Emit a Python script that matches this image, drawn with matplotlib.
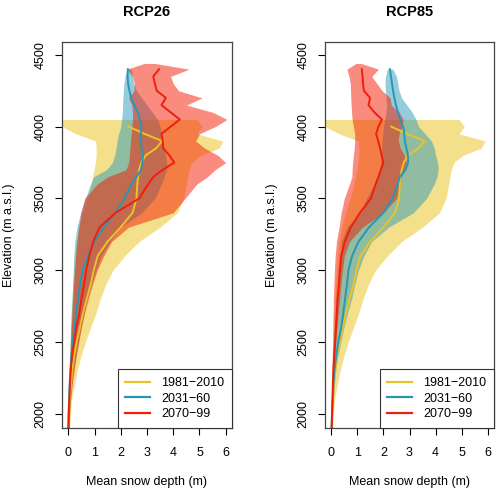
import numpy as np
import matplotlib
matplotlib.use("Agg")
import matplotlib.pyplot as plt

plt.rcParams['font.family'] = ['Liberation Sans', 'DejaVu Sans']
plt.rcParams['font.size'] = 9

n = np.nan

# elevation grid (m a.s.l.)
elev = [1900, 2000, 2100, 2200, 2300, 2400, 2500, 2600, 2700, 2800,
        2900, 3000, 3100, 3200, 3300, 3400, 3500, 3600,
        3650, 3700, 3750, 3800, 3850, 3900, 3950, 4000, 4050,
        4100, 4150, 4200, 4250, 4300, 4350, 4400, 4440]

# 1981-2010 reference (same in both panels)
hist_lo = [0.0, 0.0, 0.01, 0.02, 0.03, 0.05, 0.07, 0.09, 0.11, 0.14,
           0.17, 0.2, 0.24, 0.3, 0.4, 0.55, 0.72, 0.87,
           0.92, 0.98, 1.03, 1.06, 1.06, 1.04, 0.3, -0.24, -0.24,
           n, n, n, n, n, n, n, n]
hist_med = [0.01, 0.03, 0.06, 0.1, 0.15, 0.22, 0.32, 0.44, 0.56, 0.7,
            0.85, 0.97, 1.12, 1.5, 2.0, 2.45, 2.6, 2.63,
            2.66, 2.7, 2.78, 2.95, 3.35, 3.58, 2.9, 2.3, n,
            n, n, n, n, n, n, n, n]
hist_hi = [0.05, 0.08, 0.13, 0.23, 0.34, 0.48, 0.65, 0.85, 1.05, 1.22,
           1.42, 1.7, 2.15, 2.7, 3.5, 4.15, 4.4, 4.5,
           4.55, 4.6, 4.7, 5.05, 5.75, 5.9, 4.9, 5.1, 4.9,
           n, n, n, n, n, n, n, n]

# RCP26
r26_mid_lo = [0.0, 0.01, 0.02, 0.03, 0.04, 0.05, 0.07, 0.09, 0.11, 0.14,
              0.17, 0.19, 0.21, 0.25, 0.33, 0.47, 0.65, 0.85,
              0.96, 1.45, 1.68, 1.77, 1.82, 1.86, 1.92, 2.0, 2.03,
              2.06, 2.07, 2.08, 2.1, 2.12, 2.16, 2.24, n]
r26_mid_med = [0.0, 0.01, 0.03, 0.05, 0.08, 0.12, 0.17, 0.23, 0.3, 0.37,
               0.45, 0.55, 0.75, 1.0, 1.35, 1.8, 2.15, 2.4,
               2.6, 2.78, 2.82, 2.85, 2.8, 2.75, 2.77, 2.8, 2.72,
               2.65, 2.52, 2.4, 2.33, 2.28, 2.26, 2.27, n]
r26_mid_hi = [0.02, 0.04, 0.08, 0.13, 0.2, 0.28, 0.38, 0.48, 0.6, 0.72,
              0.88, 1.05, 1.25, 1.6, 2.0, 2.8, 3.3, 3.55,
              3.65, 3.75, 3.75, 3.7, 3.65, 3.6, 3.55, 3.5, 3.4,
              3.2, 3.0, 2.8, 2.6, 2.5, 2.45, 2.4, n]
r26_end_lo = [0.0, 0.01, 0.02, 0.03, 0.05, 0.07, 0.09, 0.11, 0.14, 0.17,
              0.2, 0.24, 0.28, 0.33, 0.4, 0.48, 0.62, 1.1,
              1.5, 2.2, 2.3, 2.33, 2.35, 2.37, 2.4, 2.42, 2.45,
              2.45, 2.42, 2.3, 2.5, 2.52, 2.45, 2.23, 2.9]
r26_end_med = [0.01, 0.02, 0.04, 0.06, 0.09, 0.14, 0.22, 0.3, 0.42, 0.5,
               0.6, 0.68, 0.8, 0.95, 1.2, 1.8, 2.7, 3.05,
               3.24, 3.6, 4.04, 3.85, 3.62, 3.6, 3.55, 3.9, 4.25,
               3.9, 3.55, 3.72, 3.37, 3.3, 3.24, 3.46, n]
r26_end_hi = [0.02, 0.05, 0.09, 0.15, 0.22, 0.3, 0.4, 0.5, 0.62, 0.76,
              0.92, 1.1, 1.35, 1.65, 2.3, 4.0, 4.45, 4.9,
              5.3, 5.6, 6.0, 5.7, 5.2, 4.85, 5.0, 5.6, 6.05,
              5.5, 4.5, 5.1, 4.2, 4.0, 3.9, 4.6, 3.3]

# RCP85
r85_mid_lo = [0.0, 0.01, 0.02, 0.03, 0.05, 0.07, 0.1, 0.13, 0.17, 0.22,
              0.26, 0.3, 0.34, 0.4, 0.6, 1.1, 1.35, 1.65,
              1.78, 1.85, 1.9, 1.92, 1.93, 1.95, 1.98, 2.0, 2.05,
              2.1, 2.12, 2.1, 2.08, 2.06, 2.08, 2.15, n]
r85_mid_med = [0.01, 0.03, 0.05, 0.08, 0.12, 0.19, 0.27, 0.38, 0.46, 0.53,
               0.6, 0.66, 0.8, 1.05, 1.45, 2.0, 2.35, 2.55,
               2.63, 2.85, 2.95, 2.94, 2.88, 2.82, 2.8, 2.76, 2.64,
               2.56, 2.48, 2.42, 2.37, 2.33, 2.29, 2.25, n]
r85_mid_hi = [0.03, 0.05, 0.08, 0.12, 0.17, 0.25, 0.37, 0.48, 0.62, 0.78,
              0.9, 1.04, 1.25, 1.55, 2.2, 3.15, 3.65, 3.95,
              4.05, 4.1, 4.08, 4.0, 3.95, 3.84, 3.6, 3.35, 3.25,
              3.1, 2.9, 2.7, 2.6, 2.55, 2.5, 2.36, n]
r85_end_lo = [0.0, 0.0, 0.01, 0.02, 0.03, 0.04, 0.05, 0.06, 0.07, 0.08,
              0.1, 0.12, 0.15, 0.2, 0.3, 0.38, 0.5, 0.7,
              0.79, 0.8, 0.82, 0.85, 0.88, 0.9, 0.9, 0.85, 0.8,
              0.78, 0.76, 0.75, 0.74, 0.73, 0.68, 0.6, 0.95]
r85_end_med = [0.02, 0.03, 0.05, 0.06, 0.08, 0.11, 0.15, 0.18, 0.21, 0.24,
               0.29, 0.33, 0.38, 0.52, 0.75, 1.1, 1.52, 1.7,
               1.81, 1.9, 2.0, 1.93, 1.87, 1.8, 1.72, 1.81, 1.94,
               1.65, 1.43, 1.49, 1.25, 1.22, 1.2, 1.17, n]
r85_end_hi = [0.02, 0.03, 0.05, 0.07, 0.1, 0.13, 0.17, 0.22, 0.27, 0.32,
              0.37, 0.43, 0.5, 0.7, 1.2, 2.0, 2.5, 2.64,
              2.7, 2.8, 2.89, 2.8, 2.65, 2.57, 2.6, 2.7, 2.76,
              2.6, 2.3, 2.26, 1.95, 1.75, 1.55, 1.81, 1.15]

periods = ['1981\u22122010', '2031\u221260', '2070\u221299']
line_cols = ['#EBC328', '#2896B4', '#F01E0A']
fill_cols = ['#EBC319', '#2D9BB9', '#F51900']
fill_alpha = [0.5, 0.5, 0.5]

panels = [
    ('RCP26', [(hist_lo, hist_med, hist_hi),
               (r26_mid_lo, r26_mid_med, r26_mid_hi),
               (r26_end_lo, r26_end_med, r26_end_hi)]),
    ('RCP85', [(hist_lo, hist_med, hist_hi),
               (r85_mid_lo, r85_mid_med, r85_mid_hi),
               (r85_end_lo, r85_end_med, r85_end_hi)]),
]

fig = plt.figure(figsize=(5.0, 4.93), dpi=100)
ax_pos = [[0.124, 0.132, 0.340, 0.783], [0.650, 0.132, 0.338, 0.783]]

y = np.array(elev, dtype=float)
for (title, series), pos in zip(panels, ax_pos):
    ax = fig.add_axes(pos)
    for i, (lo, med, hi) in enumerate(series):
        lo = np.array(lo, dtype=float)
        hi = np.array(hi, dtype=float)
        med = np.array(med, dtype=float)
        ok = np.isfinite(lo) & np.isfinite(hi)
        ax.fill_betweenx(y[ok], lo[ok], hi[ok], color=fill_cols[i],
                         alpha=fill_alpha[i], linewidth=0)
        okm = np.isfinite(med)
        ax.plot(med[okm], y[okm], color=line_cols[i], lw=1.4,
                label=periods[i])

    ax.set_xlim(-0.24, 6.24)
    ax.set_ylim(1902, 4590)
    ax.set_xticks(range(0, 7))
    ax.set_yticks(range(2000, 4501, 500))
    ax.tick_params(axis='x', length=5, width=0.8, pad=9)
    ax.tick_params(axis='y', length=5, width=0.8, pad=6)
    for lab in ax.get_yticklabels():
        lab.set_rotation(90)
        lab.set_va('center')
    for sp in ax.spines.values():
        sp.set_color('#444444')
        sp.set_linewidth(0.9)
    ax.set_title(title, fontsize=10.5, fontweight='bold', pad=19)
    ax.set_xlabel('Mean snow depth (m)', labelpad=12)
    ax.set_ylabel('Elevation (m a.s.l.)', labelpad=14)

    leg = ax.legend(loc='lower right', borderaxespad=0, fancybox=False,
                    framealpha=1, edgecolor='#333333', handlelength=2.0,
                    handletextpad=0.9, labelspacing=0.3, borderpad=0.6)
    leg.get_frame().set_linewidth(0.8)
    for h in leg.get_lines():
        h.set_linewidth(1.6)

fig.savefig('out.png', dpi=100)
